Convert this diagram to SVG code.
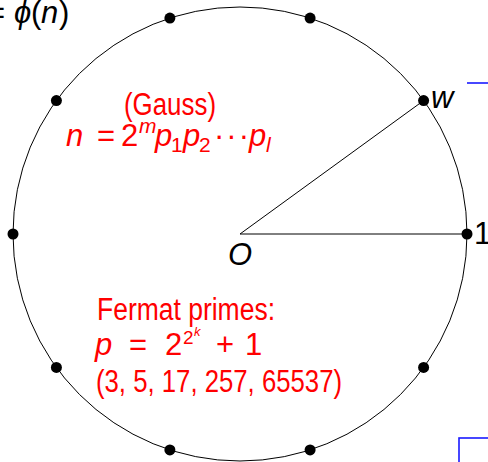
<svg xmlns="http://www.w3.org/2000/svg" width="488" height="462" viewBox="0 0 488 462">
<style>
.t{font-family:"Liberation Sans",Arial,sans-serif;font-size:31px;fill:#000}
.r{fill:#ff0000}
.i{font-style:italic}
.dot{fill:#000}
.ln{stroke:#000;stroke-width:1;fill:none}
.blue{stroke:#1a1aff;stroke-width:1.6;fill:none}
</style>
<rect width="488" height="462" fill="#fff"/>
<g id="top-left-label">
<text class="t" y="23"><tspan x="-13">=</tspan><tspan class="i" x="14">ϕ</tspan><tspan x="31">(</tspan><tspan class="i" x="41">n</tspan><tspan x="59">)</tspan></text>
</g>
<g id="circle">
<circle cx="240" cy="234" r="227" class="ln"/>
</g>
<g id="connectors">
<line x1="240" y1="234" x2="423.6" y2="100.6" class="ln"/>
<line x1="240" y1="234" x2="467" y2="234" class="ln"/>
</g>
<g id="node-1"><circle cx="467" cy="234" r="5.5" class="dot"/><text class="t" x="474" y="244">1</text></g>
<g id="node-w"><circle cx="423.6" cy="100.6" r="5.5" class="dot"/><text class="t i" x="431" y="108">w</text></g>
<g id="node-72"><circle cx="310.1" cy="18.1" r="5.5" class="dot"/></g>
<g id="node-108"><circle cx="169.9" cy="18.1" r="5.5" class="dot"/></g>
<g id="node-144"><circle cx="56.4" cy="100.6" r="5.5" class="dot"/></g>
<g id="node-180"><circle cx="13" cy="234" r="5.5" class="dot"/></g>
<g id="node-216"><circle cx="56.4" cy="367.4" r="5.5" class="dot"/></g>
<g id="node-252"><circle cx="169.9" cy="449.9" r="5.5" class="dot"/></g>
<g id="node-288"><circle cx="310.1" cy="449.9" r="5.5" class="dot"/></g>
<g id="node-324"><circle cx="423.6" cy="367.4" r="5.5" class="dot"/></g>
<g id="node-O"><text class="t i" x="228" y="265">O</text></g>
<g id="gauss">
<text class="t r" x="124" y="115" textLength="92" lengthAdjust="spacingAndGlyphs">(Gauss)</text>
<text class="t r" y="146"><tspan class="i" x="66">n</tspan><tspan x="97">=</tspan><tspan x="121">2</tspan><tspan class="i" x="139" y="133" style="font-size:21px">m</tspan><tspan class="i" x="155" y="146">p</tspan><tspan x="171" y="152" style="font-size:21px">1</tspan><tspan class="i" x="183" y="146">p</tspan><tspan x="199" y="152" style="font-size:21px">2</tspan><tspan x="214" y="146" letter-spacing="2">···</tspan><tspan class="i" x="249">p</tspan><tspan class="i" x="266" y="152" style="font-size:21px">l</tspan></text>
</g>
<g id="fermat">
<text class="t r" x="97" y="320" textLength="178" lengthAdjust="spacingAndGlyphs">Fermat primes:</text>
<text class="t r" y="355"><tspan class="i" x="95">p</tspan><tspan x="129">=</tspan><tspan x="165">2</tspan><tspan x="183" y="344" style="font-size:19px">2</tspan><tspan class="i" x="194" y="336" style="font-size:13px">k</tspan><tspan x="216" y="355">+</tspan><tspan x="245">1</tspan></text>
<text class="t r" x="96" y="392" textLength="246" lengthAdjust="spacingAndGlyphs">(3, 5, 17, 257, 65537)</text>
</g>
<g id="partial-blue">
<line x1="467" y1="83" x2="488" y2="83" class="blue"/>
<rect x="459" y="438" width="40" height="40" class="blue"/>
</g>
</svg>
